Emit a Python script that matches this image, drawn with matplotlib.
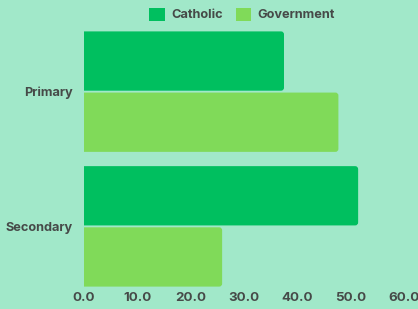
import matplotlib
matplotlib.use("Agg")
import matplotlib.pyplot as plt
from matplotlib.patches import FancyBboxPatch, Patch
import numpy as np

categories = ["Primary", "Secondary"]
catholic = [37.5, 51.4]
government = [47.7, 25.9]
series_names = ["Catholic", "Government"]
xticks = [0, 10, 20, 30, 40, 50, 60]

bg = "#a1e8c9"
c_cath = "#00bf5f"
c_gov = "#80da59"
txt = "#464a48"

plt.rcParams['font.family'] = ['Inter', 'DejaVu Sans']

fig = plt.figure(figsize=(4.18, 3.09), dpi=100, facecolor=bg)
ax = fig.add_axes([84/418, 22/309, 320/418, 256/309], facecolor=bg)

y = np.arange(len(categories))
h = 0.44
off = 0.227
b1 = ax.barh(y - off, catholic, height=h, color=c_cath, label=series_names[0])
b2 = ax.barh(y + off, government, height=h, color=c_gov, label=series_names[1])

ax.set_xlim(0, 60)
ax.set_ylim(1.45, -0.45)

# rounded right ends
fig.canvas.draw()
bb = ax.get_window_extent()
xpp = 60 / bb.width          # data units per pixel (x)
ypp = 1.9 / bb.height        # data units per pixel (y)
for cont in (b1, b2):
    for r in cont.patches:
        x0, y0, w, hh = r.get_x(), r.get_y(), r.get_width(), r.get_height()
        r.set_visible(False)
        p = FancyBboxPatch((x0 - 3, y0), w + 3, hh,
                           boxstyle=f"round,pad=0,rounding_size={3*xpp}",
                           mutation_aspect=ypp / xpp,
                           facecolor=r.get_facecolor(), edgecolor='none')
        ax.add_patch(p)

ax.set_yticks(y)
ax.set_yticklabels(categories, fontsize=9.2, fontweight='bold', color=txt)
ax.set_xticks(xticks)
ax.set_xticklabels([f"{v:.1f}" for v in xticks], fontsize=9.6, fontweight='bold', color=txt)
ax.tick_params(axis='x', length=0, pad=3.5)
ax.tick_params(axis='y', length=0, pad=8)
for s in ax.spines.values():
    s.set_visible(False)

handles = [Patch(facecolor=c_cath, edgecolor='none'), Patch(facecolor=c_gov, edgecolor='none')]
leg = fig.legend(handles=handles, labels=series_names, loc='center', bbox_to_anchor=(242/418, 1 - 14.5/309),
                 ncol=2, frameon=False, fontsize=9.2, handlelength=1.2, handleheight=1.2,
                 handletextpad=0.5, columnspacing=1.0)
for t in leg.get_texts():
    t.set_fontweight('bold')
    t.set_color(txt)

fig.savefig("out.png", dpi=100, facecolor=bg)
